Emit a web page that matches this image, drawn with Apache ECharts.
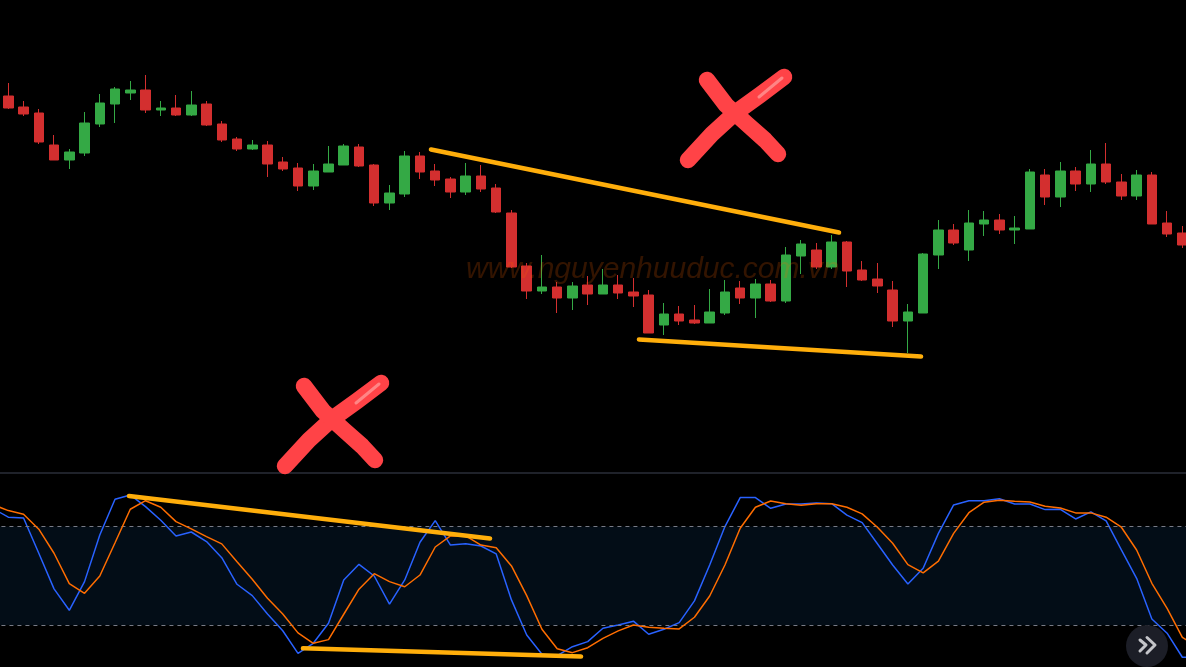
<!DOCTYPE html>
<html>
<head>
<meta charset="utf-8">
<style>html,body{margin:0;padding:0;background:#000;overflow:hidden}#c{width:1186px;height:667px}</style>
<script src="https://cdn.jsdelivr.net/npm/echarts@6/dist/echarts.min.js"></script>
</head>
<body>
<div id="c"></div>
<script>
// Candle values, oldest first (arbitrary price units)
const opens  = [377,366,360,328,313,320,349,369,380,383,363,365,358,369,349,334,324,328,311,305,287,301,308,326,308,270,279,317,302,294,281,297,285,260,207,182,186,175,188,179,188,181,178,148,159,153,150,160,185,175,189,172,217,223,206,231,203,194,183,152,160,218,243,223,249,253,243,244,298,276,302,289,309,291,277,298,250,240];
const closes = [365,359,331,313,321,350,370,384,383,363,365,358,368,348,333,324,328,309,304,287,302,309,327,307,270,280,317,301,293,281,297,284,261,206,182,186,175,187,179,188,180,177,140,159,152,150,161,181,175,189,172,218,229,206,231,202,193,187,152,161,219,243,230,250,253,243,245,301,276,302,289,309,291,277,298,249,239,228];
const lows   = [364,357,329,313,304,317,346,350,373,360,357,357,357,347,331,322,323,296,302,282,283,301,308,306,267,263,276,294,287,275,278,281,260,205,174,179,160,163,168,179,174,166,140,138,148,149,150,158,169,155,171,170,199,204,204,186,192,180,146,120,160,204,228,212,237,239,229,244,268,266,282,281,289,273,273,249,236,225];
const highs  = [390,372,364,338,324,361,379,386,392,398,372,378,382,372,352,336,333,332,316,310,309,327,329,329,309,288,322,321,309,296,310,308,289,263,210,218,191,191,197,204,198,195,183,170,167,168,184,193,192,194,193,226,233,230,238,232,212,210,192,169,220,253,249,263,262,259,257,304,304,311,306,323,330,299,303,301,262,247];

// Stochastic, including one point either side of the visible candles
const kLine = [90.8,85.6,85.1,63.7,42.1,29.1,46.5,74.8,96.5,99.1,92.0,83.7,74.2,76.6,70.8,61.0,44.9,38.0,26.9,16.7,3.0,9.1,21.2,47.5,57.0,49.9,32.9,47.5,70.4,83.5,68.7,69.5,68.1,63.3,35.4,14.1,2.4,1.6,7.0,10.1,18.2,20.2,22.5,14.6,17.6,21.6,34.8,56.6,79.9,97.5,97.5,91.0,93.6,93.6,94.2,93.8,86.8,82.3,69.5,56.6,45.1,54.6,75.8,93.0,95.6,95.6,96.8,93.6,93.6,90.2,90.4,84.5,88.8,83.3,65.7,48.5,23.8,15.2,0.6,0.6];
const dLine = [93.2,89.6,87.4,78.3,63.7,45.3,39.4,49.9,70.1,90.4,95.6,91.6,82.9,78.5,73.8,69.4,58.6,47.9,36.4,26.9,15.4,9.1,11.3,26.7,41.9,51.3,46.5,43.4,50.5,67.5,74.2,74.2,68.7,67.1,56.0,38.0,17.6,5.8,3.4,6.4,12.1,16.6,20.2,18.8,18.2,17.8,24.9,37.8,56.6,78.9,91.6,95.4,93.8,92.8,93.8,93.8,91.6,87.6,79.5,69.8,56.8,51.8,58.9,75.8,88.3,94.7,95.9,95.3,94.8,92.2,91.2,88.2,88.2,85.6,79.5,65.7,45.5,30.3,12.7,7.0];

const upperBand = 80, lowerBand = 20;
const watermark = 'www.nguyenhuuduc.com.vn';

const categories = kLine.map((_, i) => String(i));
const candles = ['-'].concat(opens.map((o, i) => [o, closes[i], lows[i], highs[i]]), ['-']);

const gold = '#ffae0b', crossRed = '#ff4347';
const stroke = (points, color, width, z) => ({
  type: 'polyline', silent: true, z: z || 50,
  shape: { points },
  style: { stroke: color, lineWidth: width, lineCap: 'round', lineJoin: 'round', fill: null }
});
const cross = (dx, dy) => [
  stroke([[688+dx,160+dy],[712+dx,134+dy],[735+dx,113+dy],[760+dx,95+dy],[784+dx,77+dy]], crossRed, 16.5),
  stroke([[707+dx,80+dy],[726+dx,105+dy],[747+dx,124+dy],[765+dx,140+dy],[778+dx,154+dy]], crossRed, 16.5),
  stroke([[759+dx,97+dy],[782+dx,78+dy]], '#ff8585', 3, 51)
];

const chart = echarts.init(document.getElementById('c'), null, { renderer: 'canvas' });
chart.setOption({
  animation: false,
  backgroundColor: '#000000',
  grid: [
    { left: -14.57, top: 0, width: 1219.8, height: 473, outerBoundsMode: 'none' },
    { left: -14.57, top: 473, width: 1219.8, height: 194, outerBoundsMode: 'none' }
  ],
  xAxis: [
    { type: 'category', gridIndex: 0, data: categories, show: false },
    { type: 'category', gridIndex: 1, data: categories, position: 'top',
      axisLine: { show: true, onZero: false, lineStyle: { color: '#2a2e39', width: 1.5 } },
      axisTick: { show: false }, axisLabel: { show: false }, splitLine: { show: false } }
  ],
  yAxis: [
    { type: 'value', gridIndex: 0, min: 0, max: 473, show: false },
    { type: 'value', gridIndex: 1, min: -5.3, max: 112.4, show: false }
  ],
  series: [
    {
      type: 'candlestick', xAxisIndex: 0, yAxisIndex: 0, data: candles, barWidth: 10, z: 3, silent: true,
      itemStyle: { color: '#34a945', color0: '#d32f2f', borderColor: '#34a945', borderColor0: '#d32f2f', borderWidth: 1 }
    },
    {
      name: '%K', type: 'line', xAxisIndex: 1, yAxisIndex: 1, data: kLine, symbol: 'none', z: 4, silent: true,
      lineStyle: { color: '#2962ff', width: 1.5 },
      markArea: { silent: true, itemStyle: { color: '#030d17' }, data: [[{ yAxis: upperBand }, { yAxis: lowerBand }]] },
      markLine: { silent: true, symbol: 'none', label: { show: false },
        lineStyle: { color: '#787b86', type: [4, 4], width: 1 },
        data: [{ yAxis: upperBand }, { yAxis: lowerBand }] }
    },
    {
      name: '%D', type: 'line', xAxisIndex: 1, yAxisIndex: 1, data: dLine, symbol: 'none', z: 5, silent: true,
      lineStyle: { color: '#ff6d00', width: 1.5 }
    }
  ],
  graphic: [
    { type: 'text', silent: true, z: 40, x: 466, y: 255,
      style: { text: watermark, fill: 'rgba(255,100,0,0.2)', font: 'italic 30px "Liberation Sans"' } },
    stroke([[431,149.5],[839,232.5]], gold, 4.6),
    stroke([[639,339.5],[921,356.5]], gold, 4.6),
    stroke([[129,496],[490,538.5]], gold, 4.6),
    stroke([[303,648.3],[581,656.5]], gold, 4.6),
    ...cross(0, 0),
    ...cross(-403, 306),
    { type: 'circle', silent: true, z: 60, shape: { cx: 1147, cy: 646, r: 21 }, style: { fill: '#1c1e27' } },
    stroke([[1140,640],[1146,645],[1140,651]], '#c4c5c9', 3, 61),
    stroke([[1147,637.5],[1155,645],[1147,653]], '#c4c5c9', 3, 61)
  ]
});
</script>
</body>
</html>
